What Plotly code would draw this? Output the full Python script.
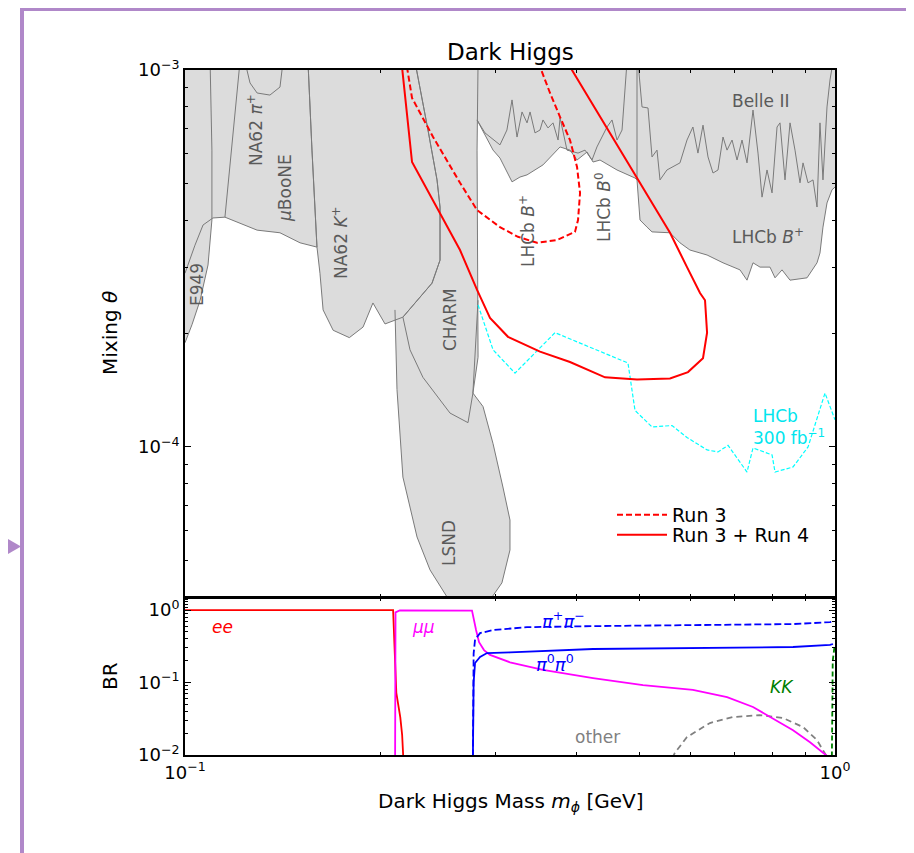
import plotly.graph_objects as go

W, H = 914, 853
OFF = 8  # the page places the figure 8 px in from the window's top-left corner

# ---------------- DATA (mass m_phi in GeV, mixing theta) ----------------
e949_m = [0.098, 0.1093, 0.1100, 0.1100, 0.1085, 0.1055, 0.1025, 0.1000, 0.098]
e949_th = [1.05e-3, 1.05e-3, 6.13e-4, 4.00e-4, 3.04e-4, 2.45e-4, 2.11e-4, 1.89e-4, 1.85e-4]

na62pi_m = [0.098, 0.1546, 0.1568, 0.1596, 0.1503, 0.1400, 0.1291, 0.1152, 0.1104, 0.1066, 0.1036, 0.1014, 0.1000, 0.098]
na62pi_th = [1.05e-3, 1.05e-3, 6.13e-4, 3.39e-4, 3.48e-4, 3.70e-4, 3.76e-4, 4.07e-4, 4.05e-4, 3.88e-4, 3.43e-4, 3.10e-4, 2.89e-4, 2.80e-4]

na62pi_left_m = [0.1215, 0.1152]
na62pi_left_th = [1.05e-3, 4.07e-4]

na62pi_top_m = [0.1237, 0.1259, 0.1291, 0.1351, 0.1400, 0.1415]
na62pi_top_th = [1.05e-3, 9.24e-4, 8.69e-4, 8.58e-4, 9.01e-4, 1.05e-3]

na62k_m = [0.1546, 0.2259, 0.2365, 0.2442, 0.2468, 0.2468, 0.2399, 0.2164, 0.2031, 0.1946, 0.1879, 0.1790,
           0.1690, 0.1631, 0.1613, 0.1596, 0.1568, 0.1546]
na62k_th = [1.05e-3, 1.05e-3, 6.93e-4, 5.11e-4, 4.33e-4, 3.13e-4, 2.72e-4, 2.21e-4, 2.12e-4, 2.41e-4, 2.08e-4, 1.95e-4,
            2.04e-4, 2.31e-4, 2.89e-4, 3.39e-4, 6.13e-4, 1.05e-3]

charm_m = [0.2259, 0.2824, 0.2814, 0.2824, 0.2824, 0.2773, 0.2725, 0.2557, 0.2323, 0.2219, 0.2164, 0.2399,
           0.2468, 0.2468, 0.2442, 0.2365, 0.2259]
charm_th = [1.05e-3, 1.05e-3, 6.13e-4, 2.61e-4, 1.73e-4, 1.39e-4, 1.16e-4, 1.23e-4, 1.53e-4, 1.81e-4, 2.21e-4, 2.72e-4,
            3.13e-4, 4.33e-4, 5.11e-4, 6.93e-4, 1.05e-3]

lsnd_m = [0.2824, 0.2773, 0.2874, 0.2978, 0.3084, 0.3162, 0.3162, 0.3073, 0.2968, 0.2968, 0.2530, 0.2530,
          0.2382, 0.2275, 0.2164, 0.2119, 0.2104]
lsnd_th = [2.45e-4, 1.39e-4, 1.28e-4, 1.02e-4, 7.83e-5, 6.40e-5, 5.33e-5, 4.36e-5, 4.00e-5, 3.80e-5, 3.80e-5, 4.00e-5,
           4.72e-5, 5.77e-5, 8.32e-5, 1.42e-4, 2.31e-4]

lhcb_lo_m = [0.2814, 0.2894, 0.2978, 0.3052, 0.3185, 0.3276, 0.3359, 0.3554, 0.3776, 0.3911, 0.4010, 0.4155,
             0.4244, 0.4350, 0.4620, 0.4924, 0.4959]
lhcb_lo_th = [7.37e-4, 6.72e-4, 6.13e-4, 5.84e-4, 5.05e-4, 5.20e-4, 5.27e-4, 5.60e-4, 6.25e-4, 6.13e-4, 5.77e-4, 6.06e-4,
              5.70e-4, 5.77e-4, 5.43e-4, 5.17e-4, 5.11e-4]

lhcb_hi_m = [0.4959, 0.5012, 0.5138, 0.5230, 0.5574, 0.5774, 0.5982, 0.6356, 0.6725, 0.7142, 0.7322, 0.7479,
             0.7668, 0.7943, 0.8086, 0.8289, 0.8527, 0.9057, 0.9383, 0.9482, 0.9583, 0.9721, 0.9894, 1.0]
lhcb_hi_th = [5.11e-4, 4.00e-4, 3.83e-4, 3.72e-4, 3.70e-4, 3.48e-4, 3.33e-4, 3.23e-4, 3.08e-4, 2.95e-4, 2.77e-4, 3.08e-4,
              3.00e-4, 3.00e-4, 2.81e-4, 2.95e-4, 2.77e-4, 2.81e-4, 3.08e-4, 3.27e-4, 3.83e-4, 4.44e-4, 4.81e-4, 4.89e-4]

lhcb_b0_m = [0.2814, 0.2894, 0.3052, 0.3128, 0.3185, 0.3242, 0.3300, 0.3359, 0.3395, 0.3455, 0.3517, 0.3554,
             0.3618, 0.3683, 0.3749, 0.3776, 0.3870, 0.4024, 0.4125, 0.4228, 0.4303, 0.4459, 0.4539, 0.4620,
             0.4703, 0.4786]
lhcb_b0_th = [7.37e-4, 6.81e-4, 6.33e-4, 6.93e-4, 8.33e-4, 6.64e-4, 7.74e-4, 7.24e-4, 7.74e-4, 6.81e-4, 6.93e-4, 7.37e-4,
              7.02e-4, 7.24e-4, 6.52e-4, 7.46e-4, 6.13e-4, 6.02e-4, 6.13e-4, 5.77e-4, 6.25e-4, 7.06e-4, 7.37e-4, 6.52e-4,
              6.93e-4, 1.05e-3]

belle_m = [0.4977, 0.5048, 0.5156, 0.5230, 0.5323, 0.5380, 0.5514, 0.5633, 0.5774, 0.5920, 0.6045, 0.6154, 0.6265,
           0.6377, 0.6491, 0.6607, 0.6725, 0.6822, 0.6944, 0.7068, 0.7194, 0.7322, 0.7479, 0.7613, 0.7722, 0.7860,
           0.8001, 0.8144, 0.8230, 0.8377, 0.8527, 0.8679, 0.8834, 0.8929, 0.9089, 0.9251, 0.9383, 0.9482, 0.9583,
           0.9721, 0.9824, 0.9929]
belle_th = [1.05e-3, 7.98e-4, 7.93e-4, 5.88e-4, 6.13e-4, 5.11e-4, 5.43e-4, 5.53e-4, 5.67e-4, 6.52e-4, 7.06e-4, 6.02e-4,
            7.14e-4, 5.88e-4, 5.33e-4, 5.43e-4, 6.64e-4, 6.13e-4, 6.52e-4, 5.77e-4, 6.52e-4, 5.67e-4, 7.83e-4, 6.02e-4,
            4.60e-4, 5.43e-4, 4.72e-4, 7.06e-4, 7.24e-4, 5.11e-4, 7.24e-4, 6.13e-4, 5.02e-4, 5.67e-4, 5.02e-4, 5.11e-4,
            4.33e-4, 7.24e-4, 5.11e-4, 7.98e-4, 9.41e-4, 1.05e-3]

run34_m = [0.2157, 0.2235, 0.2649, 0.2814, 0.2946, 0.3140, 0.3517, 0.3911, 0.4428, 0.4959, 0.5574, 0.5941,
           0.6265, 0.6356, 0.6310, 0.6199, 0.5920, 0.5574, 0.3911]
run34_th = [1.02e-3, 5.70e-4, 3.33e-4, 2.61e-4, 2.20e-4, 1.96e-4, 1.79e-4, 1.68e-4, 1.53e-4, 1.51e-4, 1.52e-4, 1.58e-4,
            1.72e-4, 2.01e-4, 2.45e-4, 2.56e-4, 3.00e-4, 3.70e-4, 1.02e-3]

run3_m = [0.2195, 0.2235, 0.2408, 0.2649, 0.2814, 0.3052, 0.3253, 0.3479, 0.3735, 0.3981, 0.4024, 0.4053,
          0.4010, 0.3911, 0.3776, 0.3644, 0.3517]
run3_th = [1.02e-3, 8.43e-4, 6.64e-4, 5.02e-4, 4.25e-4, 3.83e-4, 3.61e-4, 3.48e-4, 3.54e-4, 3.72e-4, 4.00e-4, 4.72e-4,
           5.53e-4, 6.52e-4, 7.50e-4, 8.69e-4, 1.02e-3]

lhcb300_m = [0.2824, 0.2978, 0.3219, 0.3709, 0.4803, 0.4924, 0.5230, 0.5614, 0.5920, 0.6356, 0.6607, 0.6846,
             0.7322, 0.7479, 0.8001, 0.8086, 0.8619, 0.9089, 0.9652, 1.0]
lhcb300_th = [2.38e-4, 1.81e-4, 1.57e-4, 2.01e-4, 1.67e-4, 1.25e-4, 1.13e-4, 1.14e-4, 1.06e-4, 9.82e-5, 9.70e-5, 1.01e-4,
              8.58e-5, 9.94e-5, 9.53e-5, 8.58e-5, 8.85e-5, 1.00e-4, 1.39e-4, 1.18e-4]

# Branching ratios (lower panel)
br_ee_m = [0.1, 0.209, 0.2114, 0.2144, 0.2158, 0.2166]
br_ee = [1.0, 1.0, 0.072, 0.033, 0.019, 0.0098]

br_mumu_m = [0.2105, 0.2108, 0.2140, 0.2745, 0.2764, 0.2804, 0.2834, 0.2884, 0.2946, 0.3162, 0.3554, 0.4244,
             0.5065, 0.6045, 0.6823, 0.7479, 0.8143, 0.8619, 0.9153, 0.9483, 0.9721, 0.99]
br_mumu = [0.0095, 0.93, 0.99, 0.99, 0.98, 0.53, 0.36, 0.28, 0.24, 0.19, 0.149, 0.115,
           0.092, 0.079, 0.063, 0.046, 0.030, 0.022, 0.015, 0.0117, 0.0100, 0.0085]

br_pipm_m = [0.2773, 0.2780, 0.2794, 0.2844, 0.2978, 0.3359, 0.4244, 0.6045, 0.8619, 0.9824, 0.9929]
br_pipm = [0.0095, 0.25, 0.39, 0.48, 0.53, 0.58, 0.60, 0.62, 0.64, 0.68, 0.69]

br_pi0_m = [0.2773, 0.2780, 0.2794, 0.2844, 0.2915, 0.3162, 0.4244, 0.6045, 0.8619, 0.9824, 0.9929]
br_pi0 = [0.0095, 0.10, 0.186, 0.225, 0.255, 0.26, 0.29, 0.30, 0.309, 0.33, 0.34]

br_kk_m = [0.989, 0.9895, 0.992, 0.999]
br_kk = [0.0095, 0.05, 0.2, 0.33]

br_other_m = [0.562, 0.567, 0.592, 0.642, 0.697, 0.766, 0.832, 0.893, 0.938, 0.965, 0.975]
br_other = [0.009, 0.0107, 0.0177, 0.0276, 0.0334, 0.0356, 0.0324, 0.0243, 0.0161, 0.0107, 0.009]

# ---------------- STYLE ----------------
FILL = "#dcdcdc"
EDGE = "#7a7a7a"
LABEL = "#5a5a5a"
FONT = "DejaVu Sans"


def fx(p):
    return (p - OFF) / W


def fy(p):
    return 1 - (p - OFF) / H


fig = go.Figure()


def region_fill(m, th):
    fig.add_trace(go.Scatter(x=m, y=th, mode="lines", fill="toself", fillcolor=FILL,
                             line=dict(width=0, color=FILL), showlegend=False, hoverinfo="skip"))


def edge(m, th):
    fig.add_trace(go.Scatter(x=m, y=th, mode="lines", line=dict(color=EDGE, width=1),
                             showlegend=False, hoverinfo="skip"))


# combined upper-right region (LHCb B+/B0, Belle II)
top_m = [lhcb_lo_m[0], 1.02, 1.02] + lhcb_hi_m[::-1] + lhcb_lo_m[::-1]
top_th = [1.05e-3, 1.05e-3, lhcb_hi_th[-1]] + lhcb_hi_th[::-1] + lhcb_lo_th[::-1]
region_fill(top_m, top_th)
for m, th in [(lsnd_m, lsnd_th), (charm_m, charm_th), (na62k_m, na62k_th),
              (na62pi_m, na62pi_th), (e949_m, e949_th)]:
    region_fill(m, th)

for m, th in [(lsnd_m, lsnd_th), (charm_m, charm_th), (na62k_m, na62k_th),
              (na62pi_m, na62pi_th), (e949_m, e949_th), (na62pi_top_m, na62pi_top_th),
              (na62pi_left_m, na62pi_left_th),
              (lhcb_lo_m, lhcb_lo_th), (lhcb_hi_m, lhcb_hi_th), (lhcb_b0_m, lhcb_b0_th),
              (belle_m, belle_th)]:
    edge(m, th)
edge([lhcb_hi_m[0], lhcb_hi_m[0]], [1.05e-3, lhcb_hi_th[0]])

# projections
fig.add_trace(go.Scatter(x=lhcb300_m, y=lhcb300_th, mode="lines",
                         line=dict(color="#00ffff", width=1.2, dash="4px,2px"),
                         showlegend=False, hoverinfo="skip"))
fig.add_trace(go.Scatter(x=run3_m, y=run3_th, mode="lines", name="Run 3", legend="legend",
                         line=dict(color="#ff0000", width=2, dash="6px,3px"), hoverinfo="skip"))
fig.add_trace(go.Scatter(x=run34_m, y=run34_th, mode="lines", name="Run 3 + Run 4", legend="legend2",
                         line=dict(color="#ff0000", width=2), hoverinfo="skip"))


# BR panel
def br_line(m, v, color, dash=None):
    fig.add_trace(go.Scatter(x=m, y=v, mode="lines", line=dict(color=color, width=1.8, dash=dash),
                             showlegend=False, hoverinfo="skip", xaxis="x2", yaxis="y2"))


br_line(br_other_m, br_other, "#808080", "6px,4px")
br_line(br_ee_m, br_ee, "#ff0000")
br_line(br_mumu_m, br_mumu, "#ff00ff")
br_line(br_pipm_m, br_pipm, "#0000ff", "7px,3px")
br_line(br_pi0_m, br_pi0, "#0000ff")
br_line(br_kk_m, br_kk, "#008000", "5px,3px")

# ---------------- AXES ----------------
xdom = [fx(185), fx(835)]
minor_x = [0.2, 0.3, 0.4, 0.5, 0.6, 0.7, 0.8, 0.9]
minor_y = [k * 1e-5 for k in range(4, 10)] + [k * 1e-4 for k in range(2, 10)]
minor_br = [k * 1e-2 for k in range(2, 10)] + [k * 1e-1 for k in range(2, 10)] + [1.1, 1.2, 1.3, 1.4]

common = dict(showline=True, linecolor="black", linewidth=1.8, mirror="allticks", ticks="inside",
              ticklen=6, tickwidth=1.2, tickcolor="black", showgrid=False, zeroline=False,
              tickfont=dict(family=FONT, size=18, color="black"))


def minor(vals):
    return dict(tickmode="array", tickvals=vals, ticks="inside", ticklen=3, tickwidth=1, tickcolor="black")


leg_common = dict(xanchor="left", yanchor="middle", bgcolor="rgba(0,0,0,0)", itemwidth=50,
                  font=dict(family=FONT, size=19, color="black"), borderwidth=0)

fig.update_layout(
    width=W, height=H, margin=dict(l=0, r=0, t=0, b=0, autoexpand=False), autosize=False,
    paper_bgcolor="white", plot_bgcolor="white",
    font=dict(family=FONT, color="black"),
    xaxis=dict(type="log", range=[-1, 0], domain=xdom, anchor="y", showticklabels=False,
               tickmode="array", tickvals=[0.1, 1.0], minor=minor(minor_x), **common),
    yaxis=dict(type="log", range=[-4.398, -3], domain=[fy(597), fy(70)], anchor="x",
               tickmode="array", tickvals=[1e-4, 1e-3], ticktext=["10<sup>−4</sup>", "10<sup>−3</sup>"],
               minor=minor(minor_y), **common),
    xaxis2=dict(type="log", range=[-1, 0], domain=xdom, anchor="y2",
                tickmode="array", tickvals=[0.1, 1.0], ticktext=["10<sup>−1</sup>", "10<sup>0</sup>"],
                minor=minor(minor_x), **common),
    yaxis2=dict(type="log", range=[-2, 0.166], domain=[fy(755), fy(598)], anchor="x2",
                tickmode="array", tickvals=[0.01, 0.1, 1.0],
                ticktext=["10<sup>−2</sup>", "10<sup>−1</sup>", "10<sup>0</sup>"],
                minor=minor(minor_br), **common),
    legend=dict(x=fx(612), y=fy(515), **leg_common),
    legend2=dict(x=fx(612), y=fy(535), **leg_common),
    showlegend=True,
)

annotations = []


def ann(text, x, y, color="black", size=17, angle=0, xanchor="center", align="center"):
    annotations.append(dict(text=text, x=fx(x), y=fy(y), xref="paper", yref="paper", showarrow=False,
                            textangle=angle, xanchor=xanchor, yanchor="middle", align=align,
                            font=dict(family=FONT, size=size, color=color)))


ann("Dark Higgs", 510, 52, size=23)
ann("Mixing <i>θ</i>", 110, 333, size=20, angle=-90)
ann("BR", 110, 676, size=20, angle=-90)
ann("Dark Higgs Mass <i>m</i><sub><i>ϕ</i></sub> [GeV]", 510, 802, size=20)

ann("E949", 197, 285, LABEL, 17, -90)
ann("NA62 <i>π</i><sup>+</sup>", 255, 130, LABEL, 17, -90)
ann("<i>μ</i>BooNE", 285, 188, LABEL, 17, -90)
ann("NA62 <i>K</i><sup>+</sup>", 340, 243, LABEL, 17, -90)
ann("CHARM", 450, 320, LABEL, 17, -90)
ann("LSND", 449, 543, LABEL, 17, -90)
ann("LHCb <i>B</i><sup>+</sup>", 527, 231, LABEL, 17, -90)
ann("LHCb <i>B</i><sup>0</sup>", 603, 207, LABEL, 17, -90)
ann("Belle II", 760, 101, LABEL, 17)
ann("LHCb <i>B</i><sup>+</sup>", 768, 236, LABEL, 17)
ann("LHCb<br>300 fb<sup>−1</sup>", 751, 427, "#00e5ee", 17, 0, "left", "left")

ann("<i>ee</i>", 222, 627, "#ff0000", 17)
ann("<i>μμ</i>", 423, 627, "#ff00ff", 17)
ann("<i>π</i><sup>+</sup><i>π</i><sup>−</sup>", 563, 620, "#0000ff", 18)
ann("<i>π</i><sup>0</sup><i>π</i><sup>0</sup>", 555, 663, "#0000ff", 18)
ann("other", 597, 737, "#808080", 17)
ann("<i>KK</i>", 782, 687, "#008000", 17)

fig.update_layout(annotations=annotations)

# page frame (purple border with arrow)
PURPLE = "#b088c9"
fig.add_shape(type="line", xref="paper", yref="paper", x0=fx(22), x1=fx(22), y0=fy(7), y1=0,
              line=dict(color=PURPLE, width=4))
fig.add_shape(type="line", xref="paper", yref="paper", x0=fx(20), x1=1, y0=fy(9), y1=fy(9),
              line=dict(color=PURPLE, width=4))
fig.add_shape(type="path", xref="paper", yref="paper",
              path=f"M {fx(8)} {fy(539)} L {fx(21)} {fy(546.5)} L {fx(8)} {fy(554)} Z",
              fillcolor=PURPLE, line=dict(color=PURPLE, width=0))

fig.write_html("out.html", config={"displayModeBar": False})
